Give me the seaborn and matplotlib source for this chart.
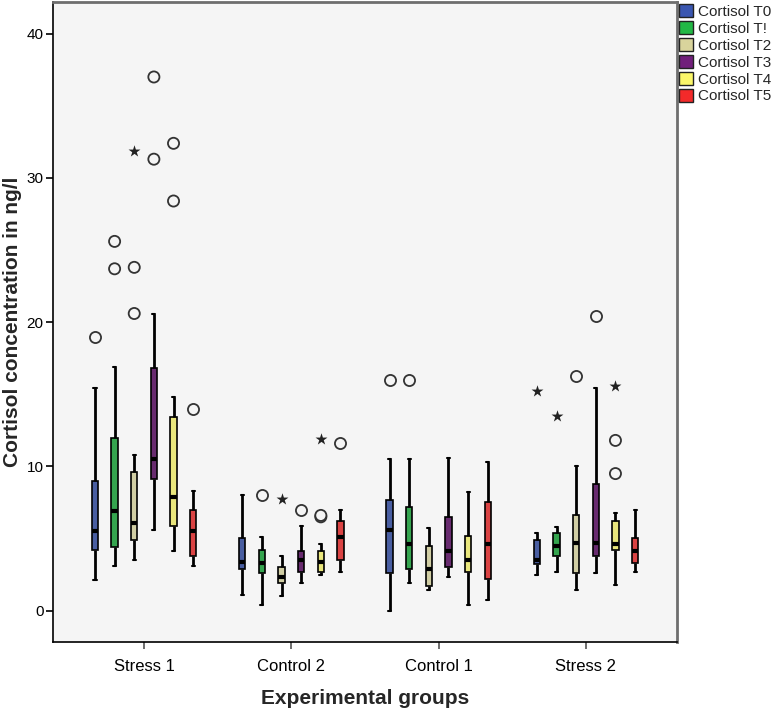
import pandas as pd
import seaborn as sns
import matplotlib.pyplot as plt
from matplotlib.patches import Patch

groups = ['Stress 1', 'Control 2', 'Control 1', 'Stress 2']
times = ['Cortisol T0', 'Cortisol T!', 'Cortisol T2', 'Cortisol T3', 'Cortisol T4', 'Cortisol T5']
colors = ['#3a56b0', '#22b845', '#d9d49c', '#711f7b', '#fbf76a', '#f32a2a']

# five-number summaries per group: [whisker low, Q1, median, Q3, whisker high]
t0 = [[2.1, 4.2, 5.5, 9.0, 15.4], [1.1, 2.9, 3.4, 5.0, 8.0], [0.0, 2.6, 5.6, 7.7, 10.5], [2.5, 3.2, 3.5, 4.9, 5.4]]
t1 = [[3.1, 4.4, 6.9, 12.0, 16.9], [0.4, 2.6, 3.3, 4.2, 5.1], [1.9, 2.9, 4.6, 7.2, 10.5], [2.7, 3.8, 4.5, 5.4, 5.8]]
t2 = [[3.5, 4.9, 6.1, 9.6, 10.8], [1.0, 1.9, 2.3, 3.0, 3.8], [1.4, 1.7, 2.9, 4.5, 5.7], [1.4, 2.6, 4.7, 6.6, 10.0]]
t3 = [[5.6, 9.1, 10.5, 16.8, 20.6], [1.9, 2.7, 3.5, 4.1, 5.9], [2.3, 3.0, 4.1, 6.5, 10.6], [2.6, 3.8, 4.7, 8.8, 15.4]]
t4 = [[4.1, 5.9, 7.9, 13.4, 14.8], [2.5, 2.7, 3.4, 4.1, 4.6], [0.4, 2.7, 3.5, 5.2, 8.2], [1.8, 4.2, 4.6, 6.2, 6.8]]
t5 = [[3.1, 3.8, 5.5, 7.0, 8.3], [2.7, 3.5, 5.1, 6.2, 7.0], [0.7, 2.2, 4.6, 7.5, 10.3], [2.7, 3.3, 4.1, 5.0, 7.0]]

# outliers: (group, time point, value)
circle_group = ['Stress 1', 'Stress 1', 'Stress 1', 'Stress 1', 'Stress 1', 'Stress 1', 'Stress 1', 'Stress 1', 'Stress 1', 'Stress 1',
                'Control 2', 'Control 2', 'Control 2', 'Control 2', 'Control 2',
                'Control 1', 'Control 1',
                'Stress 2', 'Stress 2', 'Stress 2', 'Stress 2']
circle_time = ['Cortisol T0', 'Cortisol T!', 'Cortisol T!', 'Cortisol T2', 'Cortisol T2', 'Cortisol T3', 'Cortisol T3', 'Cortisol T4', 'Cortisol T4', 'Cortisol T5',
               'Cortisol T!', 'Cortisol T3', 'Cortisol T4', 'Cortisol T4', 'Cortisol T5',
               'Cortisol T0', 'Cortisol T!',
               'Cortisol T2', 'Cortisol T3', 'Cortisol T4', 'Cortisol T4']
circle_value = [19.0, 25.6, 23.7, 23.8, 20.6, 37.0, 31.3, 32.4, 28.4, 14.0,
                8.0, 7.0, 6.5, 6.6, 11.65,
                16.0, 16.0,
                16.3, 20.4, 11.8, 9.5]
star_group = ['Stress 1', 'Control 2', 'Control 2', 'Stress 2', 'Stress 2', 'Stress 2']
star_time = ['Cortisol T2', 'Cortisol T2', 'Cortisol T4', 'Cortisol T0', 'Cortisol T!', 'Cortisol T4']
star_value = [31.9, 7.75, 11.9, 15.2, 13.5, 15.6]

# long table: with 5 values the quartiles fall exactly on the summary numbers
rows = []
for t, summ in zip(times, [t0, t1, t2, t3, t4, t5]):
    for g, vals in zip(groups, summ):
        for v in vals:
            rows.append((g, t, v))
df = pd.DataFrame(rows, columns=['group', 'time', 'value'])
circles = pd.DataFrame({'group': circle_group, 'time': circle_time, 'value': circle_value})
stars = pd.DataFrame({'group': star_group, 'time': star_time, 'value': star_value})

sns.set_theme(style='white')
plt.rcParams['font.family'] = ['Liberation Sans', 'DejaVu Sans']

fig = plt.figure(figsize=(7.75, 7.11), dpi=100)
ax = fig.add_axes([0.0688, 0.0966, 0.8044, 0.9006])
ax.set_facecolor('#f5f5f5')

sns.boxplot(data=df, x='group', y='value', hue='time', order=groups, hue_order=times,
            palette=colors, whis=(0, 100), gap=0.68, width=0.8, linecolor='black',
            linewidth=1.2, showfliers=False, legend=False, ax=ax,
            medianprops=dict(linewidth=3, color='black'),
            whiskerprops=dict(linewidth=2), capprops=dict(linewidth=1.5))

sns.stripplot(data=circles, x='group', y='value', hue='time', order=groups, hue_order=times,
              palette=['#f5f5f5'] * 6, dodge=True, jitter=False, size=8, marker='o',
              edgecolor='#333333', linewidth=1.3, legend=False, ax=ax)
sns.stripplot(data=stars, x='group', y='value', hue='time', order=groups, hue_order=times,
              palette=['#222222'] * 6, dodge=True, jitter=False, size=9, marker='*',
              linewidth=0, legend=False, ax=ax)

ax.set_xlim(-0.616, 3.616)
ax.set_ylim(-2.2, 42.2)
ax.set_yticks([0, 10, 20, 30, 40])
ax.tick_params(axis='both', which='both', length=5, width=1.2, color='black', labelsize=11,
               labelcolor='black', left=True, bottom=True, pad=2)
ax.tick_params(axis='x', color='#555555', pad=7, labelsize=12)
for side in ['left', 'bottom']:
    ax.spines[side].set_color('black')
    ax.spines[side].set_linewidth(1.2)
for side in ['top', 'right']:
    ax.spines[side].set_color('#6e6e6e')
    ax.spines[side].set_linewidth(2)

ax.set_xlabel('Experimental groups', fontsize=15, fontweight='bold', labelpad=11)
ax.set_ylabel('Cortisol concentration in ng/l', fontsize=15, fontweight='bold', labelpad=3)

handles = [Patch(facecolor=c, edgecolor='#222222', linewidth=1) for c in colors]
fig.legend(handles, times, loc='upper left', bbox_to_anchor=(0.874, 0.996), frameon=False,
           fontsize=11, handlelength=0.9, handleheight=0.9, handletextpad=0.35,
           labelspacing=0.15, borderpad=0.1, borderaxespad=0)

plt.savefig('out.png', dpi=100)
